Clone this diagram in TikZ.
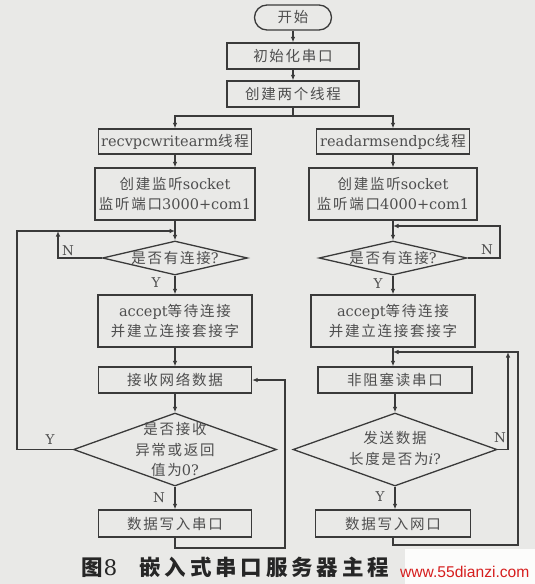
\documentclass[tikz,border=0pt]{standalone}
\usepackage{fontspec}
\setmainfont[LetterSpace=12]{Noto Sans CJK SC}
\newfontfamily\latf{DejaVu Serif}
\newfontfamily\capf[LetterSpace=18]{Noto Sans CJK SC}
\newfontfamily\wmf{Liberation Sans}
\newcommand\lt[1]{{\latf #1}}
\usetikzlibrary{shapes.geometric,arrows.meta}
\definecolor{lc}{RGB}{58,58,58}
\definecolor{tc}{RGB}{78,78,78}
\definecolor{bg}{RGB}{233,233,231}
\definecolor{wm}{RGB}{214,30,30}
\tikzset{
  box/.style={draw=lc, line width=1.3pt, inner sep=0pt, align=center, text=tc,
    font=\fontsize{14.5}{20}\selectfont},
  dia/.style={draw=lc, line width=1.3pt, shape=diamond, inner sep=0pt},
  dtext/.style={inner sep=0pt, align=center, text=tc, font=\fontsize{14.5}{20.5}\selectfont},
  yn/.style={inner sep=0pt, text=tc, font=\latf\fontsize{13.5}{14}\selectfont},
  arr/.style={draw=lc, line width=1.2pt, -{Latex[length=5.5pt,width=4.5pt]}},
  ln/.style={draw=lc, line width=1.2pt}
}
\begin{document}
\begin{tikzpicture}[x=1pt,y=-1pt]
\useasboundingbox (0,0) rectangle (535,584);
\fill[bg] (0,0) rectangle (535,584);
\fill[white!85!bg] (405,549) rectangle (535,584);

% main chain
\node[box, minimum width=77pt, minimum height=25pt, rounded corners=12.5pt] (start) at (293,17.5) {开始};
\node[box, minimum width=132pt, minimum height=26pt] (init) at (293,56) {初始化串口};
\node[box, minimum width=132pt, minimum height=26pt] (create2) at (293,94) {创建两个线程};

% left column
\node[box, minimum width=153pt, minimum height=25pt] (recvpc) at (175,141.5) {\lt{recvpcwritearm}线程};
\node[box, minimum width=160pt, minimum height=52pt] (sockL) at (175,194) {创建监听\lt{socket}\\监听端口\lt{3000+com1}};
\node[dia, minimum width=145pt, minimum height=34pt] (dL1) at (175,258) {};
\node[dtext] (dL1t) at (175,258) {是否有连接\lt{?}};
\node[box, minimum width=154pt, minimum height=52pt] (accL) at (175,321) {\lt{accept}等待连接\\并建立连接套接字};
\node[box, minimum width=153pt, minimum height=26pt] (recvL) at (175,380) {接收网络数据};
\node[dia, minimum width=203pt, minimum height=73pt] (dL2) at (175,449.5) {};
\node[dtext] (dL2t) at (175,449.5) {是否接收\\异常或返回\\值为\lt{0?}};
\node[box, minimum width=153pt, minimum height=27pt] (wsL) at (175,523.5) {数据写入串口};

% right column
\node[box, minimum width=153pt, minimum height=25pt] (readarms) at (393,141.5) {\lt{readarmsendpc}线程};
\node[box, minimum width=168pt, minimum height=52pt] (sockR) at (393,194) {创建监听\lt{socket}\\监听端口\lt{4000+com1}};
\node[dia, minimum width=148pt, minimum height=34pt] (dR1) at (393,258) {};
\node[dtext] (dR1t) at (393,258) {是否有连接\lt{?}};
\node[box, minimum width=164pt, minimum height=52pt] (accR) at (393,321) {\lt{accept}等待连接\\并建立连接套接字};
\node[box, minimum width=154pt, minimum height=26pt] (nbR) at (395,380) {非阻塞读串口};
\node[dia, minimum width=204pt, minimum height=73pt] (dR2) at (395,449.5) {};
\node[dtext] (dR2t) at (395,448.5) {发送数据\\长度是否为\lt{\itshape i}\lt{?}};
\node[box, minimum width=155pt, minimum height=27pt] (wnR) at (393,523.5) {数据写入网口};

% coordinates
\coordinate (split) at (293,116);
\coordinate (jL) at (175,231);
\coordinate (cYL) at (17,231);
\coordinate (nL) at (58,231);
\coordinate (bL) at (175,548);
\coordinate (cL2) at (285,548);
\coordinate (jR) at (393,226);
\coordinate (cNR) at (500,226);
\coordinate (jR2) at (393,352);
\coordinate (cR2) at (518,352);
\coordinate (nR2) at (508,352);
\coordinate (bR) at (393,545);

% connectors
\draw[arr] (start) -- (init);
\draw[arr] (init) -- (create2);
\draw[ln] (create2.south) -- (split);
\draw[arr] (split) -| (recvpc.north);
\draw[arr] (split) -| (readarms.north);

\draw[arr] (recvpc) -- (sockL);
\draw[arr] (sockL) -- (dL1);
\draw[arr] (dL1.west) -| (nL);
\draw[arr] (dL1) -- (accL);
\draw[arr] (accL) -- (recvL);
\draw[arr] (recvL) -- (dL2);
\draw[arr] (dL2.west) -| (cYL) -- (jL);
\draw[arr] (dL2) -- (wsL);
\draw[arr] (wsL.south) -- (bL) -- (cL2) |- (recvL.east);

\draw[arr] (readarms) -- (sockR);
\draw[arr] (sockR) -- (dR1);
\draw[arr] (dR1.east) -| (cNR) -- (jR);
\draw[arr] (dR1) -- (accR);
\draw[arr] (accR) -- (nbR.north -| accR.south);
\draw[arr] (nbR.south -| dR2.north) -- (dR2);
\draw[arr] (dR2.east) -| (nR2);
\draw[arr] (dR2) -- (wnR.north -| dR2.south);
\draw[arr] (wnR.south) -- (bR) -| (cR2) -- (jR2);

% Y/N labels
\node[yn] (lN1) at (68,251) {N};
\node[yn] (lY1) at (156,283) {Y};
\node[yn] (lY2) at (50,440) {Y};
\node[yn] (lN2) at (159,498) {N};
\node[yn] (rN1) at (487,250) {N};
\node[yn] (rY1) at (378,284) {Y};
\node[yn] (rN2) at (500,438) {N};
\node[yn] (rY2) at (380,497) {Y};

% caption and watermark
\node[anchor=west, inner sep=0pt, text=black!85, font=\fontsize{21.5}{24}\selectfont] (cap) at (81,567)
  {{\capf\bfseries 图}\hspace{1pt}\lt{8}\hspace{22pt}{\capf\bfseries 嵌入式串口服务器主程}};
\node[anchor=west, inner sep=0pt, text=wm, font=\wmf\fontsize{15.6}{17}\selectfont] (wmark) at (400,572) {www.55dianzi.com};
\end{tikzpicture}
\end{document}
